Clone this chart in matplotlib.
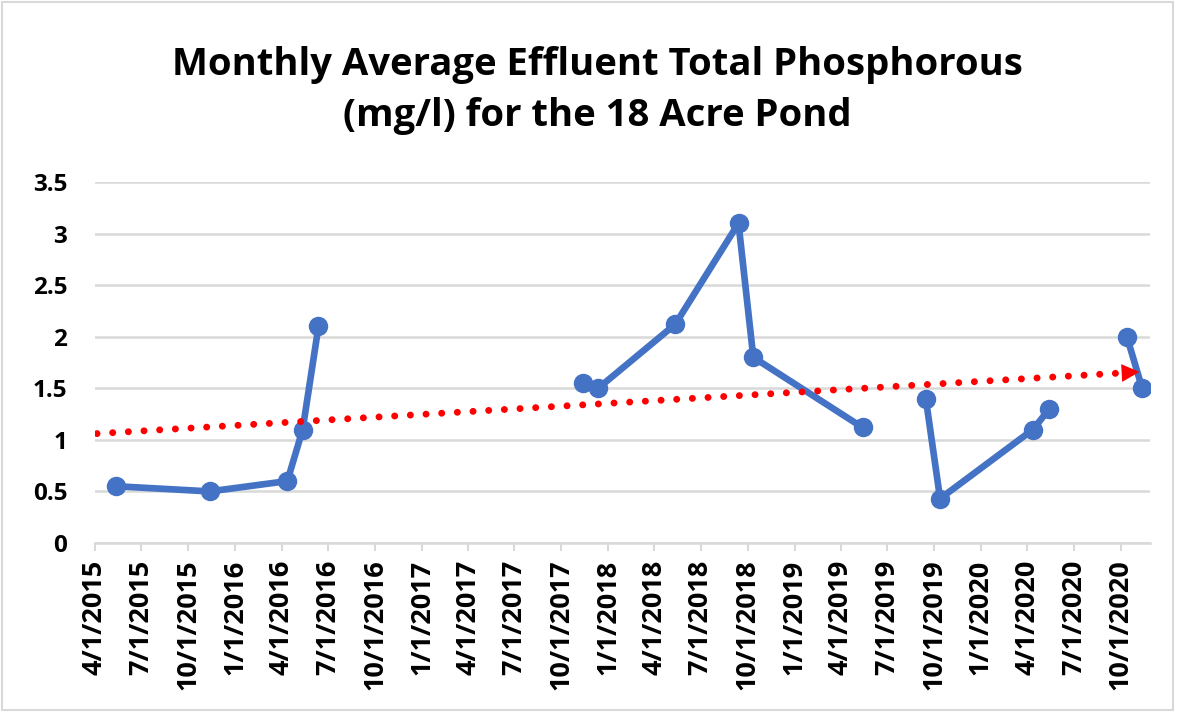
import matplotlib
matplotlib.use("Agg")
import matplotlib.pyplot as plt
import matplotlib.dates as mdates
import matplotlib.transforms as mtransforms
import numpy as np
import pandas as pd
from matplotlib.patches import Rectangle

# monthly averages, one list per continuous run of data
seg_dates = [
    ["2015-05-13", "2015-11-12", "2016-04-12", "2016-05-12", "2016-06-12"],
    ["2017-11-12", "2017-12-12", "2018-05-12", "2018-09-13", "2018-10-12", "2019-05-14"],
    ["2019-09-15", "2019-10-13", "2020-04-12", "2020-05-14"],
    ["2020-10-13", "2020-11-12"],
]
seg_values = [
    [0.55, 0.50, 0.60, 1.10, 2.10],
    [1.55, 1.50, 2.12, 3.10, 1.80, 1.12],
    [1.40, 0.43, 1.10, 1.30],
    [2.00, 1.50],
]
axis_start = "2015-04-01"
axis_end = "2020-11-27"
tick_start = "2015-04-01"
tick_end = "2020-10-01"
y_ticks = [0, 0.5, 1, 1.5, 2, 2.5, 3, 3.5]
y_labels = ["0", "0.5", "1", "1.5", "2", "2.5", "3", "3.5"]
title = "Monthly Average Effluent Total Phosphorous\n(mg/l) for the 18 Acre Pond"

plt.rcParams["font.family"] = ["Open Sans", "DejaVu Sans"]

fig = plt.figure(figsize=(11.78, 7.12), dpi=100)
ax = fig.add_axes([0.0806, 0.2374, 0.8955, 0.507])

blue = "#4472C4"
for d, v in zip(seg_dates, seg_values):
    x = mdates.date2num(pd.to_datetime(d))
    ax.plot(x, v, color=blue, lw=4.8, marker="o", ms=13, solid_capstyle="round",
            solid_joinstyle="round", zorder=3)

# linear trend over all points
all_x = np.concatenate([mdates.date2num(pd.to_datetime(d)) for d in seg_dates])
all_y = np.concatenate(seg_values)
k, b = np.polyfit(all_x, all_y, 1)
x0 = mdates.date2num(pd.Timestamp(axis_start))
x1 = all_x.max()
tx = np.array([x0 + 4, x1 - 14])
ax.plot(tx, k * tx + b, color="red", lw=5, linestyle=(0, (0.01, 2.25)),
        dash_capstyle="round", zorder=4)
ax.annotate("", xy=(x1, k * x1 + b), xytext=(x1 - 20, k * (x1 - 20) + b),
            arrowprops=dict(arrowstyle="-|>", color="red", lw=0, mutation_scale=32),
            zorder=5)

ax.set_xlim(mdates.date2num(pd.Timestamp(axis_start)), mdates.date2num(pd.Timestamp(axis_end)))
ax.set_ylim(0, 3.5)

ticks = pd.date_range(tick_start, tick_end, freq="3MS")
ax.set_xticks(mdates.date2num(ticks))
ax.set_xticklabels([f"{t.month}/{t.day}/{t.year}" for t in ticks], rotation=90,
                   fontsize=19.5, fontweight="bold")
shift = mtransforms.ScaledTranslation(0.07, 0, fig.dpi_scale_trans)
for lab in ax.get_xticklabels():
    lab.set_transform(lab.get_transform() + shift)
ax.set_yticks(y_ticks)
ax.set_yticklabels(y_labels, fontsize=17.5, fontweight="bold")

ax.grid(axis="y", color="#d9d9d9", lw=1.8)
ax.set_axisbelow(True)
for s in ["top", "right", "left"]:
    ax.spines[s].set_visible(False)
ax.spines["bottom"].set_color("#d9d9d9")
ax.spines["bottom"].set_linewidth(1.8)
ax.tick_params(axis="x", length=6, width=1.5, color="#d9d9d9", pad=6)
ax.tick_params(axis="y", length=0, pad=20)

fig.text(0.507, 0.873, title, ha="center", va="center", fontsize=27.5,
         fontweight="bold", linespacing=1.45)

fig.patches.append(Rectangle((0.002, 0.003), 0.994, 0.994, transform=fig.transFigure,
                             fill=False, edgecolor="#d9d9d9", lw=1.5))

fig.savefig("out.png", dpi=100, facecolor="white")
